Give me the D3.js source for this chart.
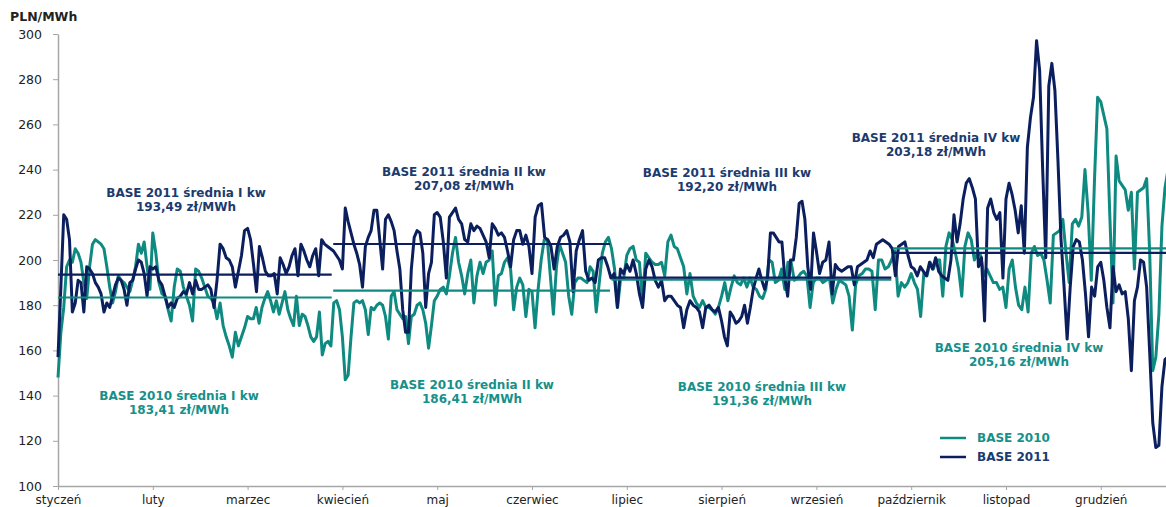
<!DOCTYPE html>
<html>
<head>
<meta charset="utf-8">
<script src="https://cdn.jsdelivr.net/npm/d3@7/dist/d3.min.js"></script>
<style>
  body { margin: 0; background: #fff; }
  text { font-family: "DejaVu Sans", Verdana, sans-serif; }
</style>
</head>
<body>
<div id="chart"></div>
<script>
// *****Data*****
// month labels, one tick every 31 points like the original category axis
var months = ["styczeń", "luty", "marzec", "kwiecień", "maj", "czerwiec",
              "lipiec", "sierpień", "wrzesień", "październik", "listopad", "grudzień"];

// daily BASE prices [PLN/MWh], grouped per month
var base2010 = [
  [148, 168, 179, 197, 200, 199, 205, 203, 199, 190, 183, 197, 207, 209, 208, 207, 205, 197, 188, 181, 186, 193, 191, 190, 188, 186, 191, 197, 207, 203, 208, 197, 187],
  [212, 203, 190, 185, 184, 178, 173, 188, 196, 195, 188, 184, 180, 173, 196, 195, 192, 188, 184, 183, 181, 174, 181, 171, 166, 162, 157, 168, 162, 166, 170],
  [175, 174, 174, 179, 172, 179, 183, 186, 182, 177, 182, 176, 181, 186, 178, 174, 171, 184, 171, 176, 175, 171, 166, 164, 166, 177, 158, 163, 164, 162, 181, 182, 178],
  [166, 147, 149, 166, 181, 182, 181, 182, 178, 167, 179, 178, 180, 181, 180, 175, 165, 184, 186, 178, 176, 174, 175, 163, 175, 176, 180, 181, 178, 172, 161, 171, 182],
  [184, 187, 188, 185, 193, 203, 210, 199, 193, 185, 194, 200, 181, 193, 199, 194, 199, 200, 204, 180, 193, 194, 199, 201, 196, 178, 188, 192, 189, 175, 187],
  [186, 170, 187, 200, 209, 209, 193, 176, 197, 207, 203, 199, 184, 176, 190, 192, 192, 191, 190, 197, 195, 177, 190, 203, 208, 210, 205, 196, 179, 192, 192],
  [202, 205, 206, 200, 199, 181, 203, 201, 199, 198, 198, 199, 193, 208, 211, 206, 205, 201, 197, 185, 194, 184, 181, 179, 182, 179, 179, 178, 176, 179],
  [184, 190, 182, 188, 193, 190, 189, 192, 188, 192, 188, 187, 184, 183, 187, 200, 199, 190, 191, 196, 187, 199, 199, 191, 192, 194, 195, 193, 179, 190],
  [192, 192, 190, 191, 192, 181, 187, 191, 190, 189, 184, 169, 189, 193, 194, 196, 196, 195, 178, 200, 200, 196, 197, 200, 204, 184, 190, 188, 190],
  [194, 190, 187, 175, 194, 193, 199, 196, 200, 200, 184, 206, 212, 209, 203, 196, 184, 206, 212, 209, 200, 203, 202, 193, 196, 193, 190, 190, 187, 188],
  [179, 196, 200, 188, 180, 178, 188, 177, 203, 206, 202, 203, 200, 191, 181, 211, 212, 213, 218, 203, 190, 216, 218, 215, 219, 240, 221, 191, 235, 272],
  [270, 264, 258, 218, 181, 246, 235, 233, 231, 222, 230, 196, 230, 231, 232, 236, 203, 151, 157, 176, 215, 232, 240]
];

var base2011 = [
  [157, 188, 220, 218, 209, 177, 181, 191, 190, 177, 197, 196, 194, 190, 188, 185, 177, 181, 179, 184, 189, 192, 191, 187, 180, 190, 191, 196, 200, 199, 194, 184, 197],
  [196, 197, 191, 189, 184, 179, 181, 179, 183, 184, 186, 185, 190, 185, 191, 187, 187, 188, 189, 187, 179, 191, 207, 205, 201, 200, 197, 188, 195, 202, 213],
  [214, 209, 198, 186, 206, 201, 195, 193, 193, 194, 185, 201, 198, 194, 197, 202, 205, 193, 207, 204, 200, 197, 202, 205, 193, 209, 207, 206, 205, 204, 202, 200],
  [196, 223, 217, 212, 207, 203, 198, 188, 206, 210, 213, 222, 222, 209, 196, 218, 220, 217, 213, 204, 196, 178, 168, 168, 196, 210, 213, 212, 203, 179, 194, 199, 220],
  [221, 219, 208, 192, 219, 221, 223, 218, 216, 209, 208, 216, 213, 215, 214, 211, 208, 201, 216, 214, 211, 212, 210, 204, 197, 209, 213, 213, 207, 211, 206],
  [194, 219, 224, 225, 210, 209, 206, 196, 206, 210, 211, 213, 208, 186, 204, 209, 213, 195, 191, 192, 190, 200, 201, 201, 197, 192, 194, 179, 196, 194],
  [198, 195, 200, 194, 185, 179, 196, 200, 197, 191, 188, 191, 182, 184, 184, 182, 180, 179, 170, 178, 182, 180, 179, 177, 170, 179, 180, 178, 177, 179],
  [173, 166, 162, 177, 175, 172, 173, 175, 180, 172, 179, 187, 192, 196, 191, 187, 192, 212, 212, 210, 208, 208, 192, 184, 200, 200, 210, 225, 226, 218, 197, 187, 212],
  [204, 194, 199, 200, 208, 185, 198, 196, 195, 196, 197, 197, 189, 197, 198, 199, 200, 204, 201, 207, 208, 209, 208, 207, 205, 193, 206, 207, 208, 202],
  [197, 196, 193, 197, 195, 193, 199, 196, 201, 195, 193, 192, 191, 200, 220, 208, 216, 227, 234, 236, 232, 227, 197, 201, 173, 223, 227, 221, 218, 221, 192],
  [227, 234, 229, 222, 212, 224, 203, 250, 263, 272, 297, 284, 240, 201, 277, 287, 275, 244, 209, 188, 165, 188, 206, 209, 208, 200, 185, 166, 188, 184, 197],
  [199, 191, 179, 170, 197, 186, 189, 185, 186, 174, 151, 182, 188, 200, 199, 188, 159, 128, 117, 118, 144, 156, 157, 146]
];

// quarterly averages
var quarters = ["I", "II", "III", "IV"];
var quarterStart = [0, 90, 181, 273];   // day index
var quarterEnd = [89.5, 180.5, 272.5, 365];
var avg2010 = [183.41, 186.41, 191.36, 205.16];
var avg2011 = [193.49, 207.08, 192.20, 203.18];

var teal = "#0f8a80", navy = "#0b1f5e";
var tealText = "#16908a", navyText = "#1c3a6e";

// set the dimensions of the graph
var W = 1166, H = 507;
var dayPx = 3.058;
var margin = {left: 58, top: 34, bottom: 486};

var svg = d3.select("#chart")
  .append("svg")
    .attr("width", W)
    .attr("height", H);

// X scale in days, ticks every 31 days
var x = d3.scaleLinear()
  .domain([0, 372])
  .range([margin.left, margin.left + 372 * dayPx]);

var y = d3.scaleLinear()
  .domain([100, 300])
  .range([margin.bottom, margin.top]);

// flatten month groups into points
function toPoints(groups) {
  var pts = [];
  groups.forEach(function(vals, m) {
    var step = m < 11 ? 31 / vals.length : 1;
    vals.forEach(function(v, i) {
      pts.push({day: m * 31 + i * step, value: v});
    });
  });
  return pts;
}

// Y axis
var yAxis = svg.append("g")
  .attr("transform", "translate(" + margin.left + ",0)")
  .call(d3.axisLeft(y).tickValues(d3.range(100, 301, 20)).tickSize(5).tickSizeOuter(0).tickPadding(11));
yAxis.select(".domain").attr("stroke", "#a6a6a6").attr("stroke-width", 1.5);
yAxis.selectAll(".tick line").attr("stroke", "#a6a6a6");
yAxis.selectAll("text").attr("font-size", "12.5px").attr("fill", "#222");

// X axis
var xAxis = svg.append("g")
  .attr("transform", "translate(0," + margin.bottom + ")")
  .call(d3.axisBottom(x)
    .tickValues(d3.range(0, 12).map(function(m) { return m * 31; }))
    .tickFormat(function(d) { return months[d / 31]; })
    .tickSize(4).tickSizeOuter(0).tickPadding(5));
xAxis.select(".domain").attr("stroke", "#a6a6a6").attr("stroke-width", 1.5);
xAxis.selectAll(".tick line").attr("stroke", "#a6a6a6");
xAxis.selectAll("text").attr("font-size", "12px").attr("fill", "#222");

// unit label
svg.append("text")
  .attr("x", 10).attr("y", 21)
  .attr("font-size", "12.5px").attr("font-weight", "bold").attr("fill", "#222")
  .text("PLN/MWh");

// Lines
var line = d3.line()
  .x(function(d) { return x(d.day); })
  .y(function(d) { return y(d.value); });

svg.append("path")
  .datum(toPoints(base2010))
  .attr("fill", "none")
  .attr("stroke", teal)
  .attr("stroke-width", 3)
  .attr("stroke-linejoin", "round")
  .attr("d", line);

svg.append("path")
  .datum(toPoints(base2011))
  .attr("fill", "none")
  .attr("stroke", navy)
  .attr("stroke-width", 3)
  .attr("stroke-linejoin", "round")
  .attr("d", line);

// quarterly average lines
function avgLines(vals, color) {
  svg.selectAll(null)
    .data(vals)
    .enter()
    .append("line")
      .attr("x1", function(d, i) { return x(quarterStart[i]); })
      .attr("x2", function(d, i) { return x(quarterEnd[i]); })
      .attr("y1", function(d) { return y(d); })
      .attr("y2", function(d) { return y(d); })
      .attr("stroke", color)
      .attr("stroke-width", 2.2);
}
avgLines(avg2010, teal);
avgLines(avg2011, navy);

// annotations
var fmt = function(v) { return d3.format(".2f")(v).replace(".", ",") + " zł/MWh"; };
var pos2011 = [[186, 197], [464, 176], [727, 177], [936, 142]];
var pos2010 = [[179, 400], [472, 389], [762, 391], [1019, 352]];

function annot(vals, pos, year, color) {
  vals.forEach(function(v, i) {
    var t = svg.append("text")
      .attr("text-anchor", "middle")
      .attr("font-size", "12px")
      .attr("font-weight", "bold")
      .attr("fill", color);
    t.append("tspan").attr("x", pos[i][0]).attr("y", pos[i][1])
      .text("BASE " + year + " średnia " + quarters[i] + " kw");
    t.append("tspan").attr("x", pos[i][0]).attr("y", pos[i][1] + 13.5)
      .text(fmt(v));
  });
}
annot(avg2011, pos2011, 2011, navyText);
annot(avg2010, pos2010, 2010, tealText);

// legend
var legend = [{name: "BASE 2010", color: teal, text: tealText}, {name: "BASE 2011", color: navy, text: navyText}];
var lg = svg.selectAll(".legend")
  .data(legend)
  .enter()
  .append("g")
    .attr("transform", function(d, i) { return "translate(940," + (438 + i * 19) + ")"; });
lg.append("line")
  .attr("x1", 0).attr("x2", 26)
  .attr("stroke", function(d) { return d.color; })
  .attr("stroke-width", 2.5);
lg.append("text")
  .attr("x", 37).attr("y", 4)
  .attr("font-size", "12px")
  .attr("font-weight", "bold")
  .attr("fill", function(d) { return d.text; })
  .text(function(d) { return d.name; });
</script>
</body>
</html>
